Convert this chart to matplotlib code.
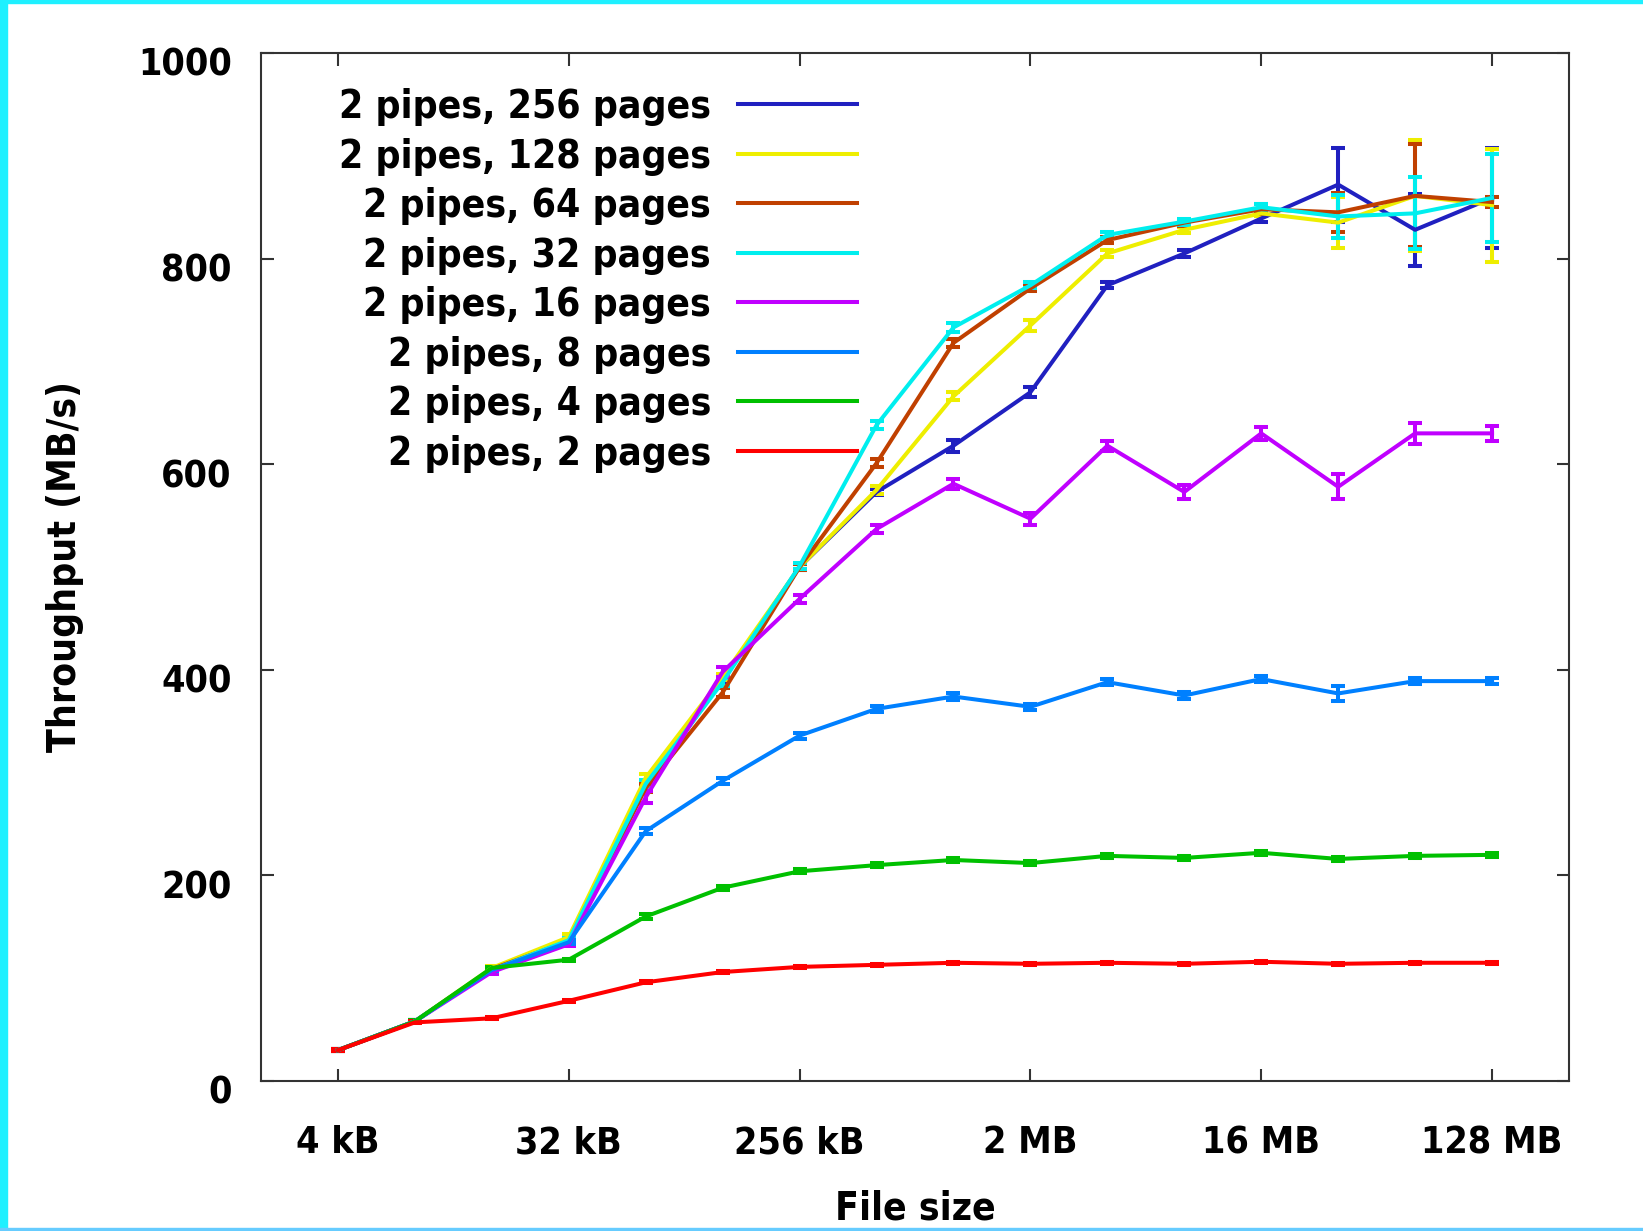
import matplotlib
matplotlib.use("Agg")
import matplotlib.pyplot as plt
import matplotlib.transforms as mtransforms
from matplotlib import font_manager as fm
from matplotlib.patches import Rectangle

# pick a narrow bold face if one is installed, else DejaVu Sans Bold
def pick_font():
    fl = fm.fontManager.ttflist
    def bold(f):
        return f.weight in ('bold', 700, 'heavy', 800) or 'Bold' in f.fname
    for f in fl:
        if 'DejaVu' in f.name and ('ondensed' in f.name or 'ondensed' in f.fname
                                   or f.stretch == 'condensed') and bold(f):
            return fm.FontProperties(fname=f.fname), 28, 27
    for f in fl:
        if 'Narrow' in f.name or 'Narrow' in f.fname:
            if bold(f):
                return fm.FontProperties(fname=f.fname), 36, 33
    return fm.FontProperties(family='DejaVu Sans', weight='bold'), 25.5, 24

fp, legend_size, tick_size = pick_font()

# File sizes in kB
sizes_kb = [4, 8, 16, 32, 64, 128, 256, 512, 1024, 2048, 4096, 8192,
            16384, 32768, 65536, 131072]
tick_pos = [4, 32, 256, 2048, 16384, 131072]
tick_labels = ['4 kB', '32 kB', '256 kB', '2 MB', '16 MB', '128 MB']
y_ticks = [0, 200, 400, 600, 800, 1000]

labels = ['2 pipes, 256 pages', '2 pipes, 128 pages', '2 pipes, 64 pages',
          '2 pipes, 32 pages', '2 pipes, 16 pages', '2 pipes, 8 pages',
          '2 pipes, 4 pages', '2 pipes, 2 pages']
colors = ['#2020c0', '#eeee00', '#c04000', '#00eeee', '#c000ff', '#0080ff',
          '#00c000', '#ff0000']

p256 = [30, 58, 109, 136, 287, 390, 500, 573, 618, 670, 774, 805, 839, 872, 828, 859]
p128 = [30, 58, 110, 140, 295, 393, 500, 575, 666, 735, 805, 828, 844, 835, 861, 852]
p64 = [30, 58, 109, 136, 285, 378, 500, 601, 718, 771, 818, 835, 848, 845, 861, 855]
p32 = [30, 58, 108, 137, 289, 388, 501, 638, 733, 774, 823, 836, 850, 841, 844, 859]
p16 = [30, 58, 106, 133, 276, 398, 469, 537, 581, 547, 618, 573, 630, 578, 630, 630]
p8 = [30, 58, 108, 135, 243, 292, 336, 362, 374, 364, 388, 375, 391, 377, 389, 389]
p4 = [30, 58, 110, 118, 160, 188, 204, 210, 215, 212, 219, 217, 222, 216, 219, 220]
p2 = [30, 57, 61, 78, 96, 106, 111, 113, 115, 114, 115, 114, 116, 114, 115, 115]

e256 = [1, 1, 2, 2, 3, 3, 3, 3, 6, 5, 3, 3, 3, 36, 35, 49]
e128 = [1, 1, 2, 3, 4, 3, 3, 4, 4, 5, 3, 3, 3, 25, 54, 55]
e64 = [1, 1, 2, 2, 4, 4, 3, 4, 4, 3, 3, 3, 5, 19, 50, 5]
e32 = [1, 1, 2, 2, 4, 4, 3, 4, 4, 3, 3, 3, 3, 21, 35, 43]
e16 = [1, 1, 2, 2, 6, 5, 4, 4, 5, 6, 5, 7, 6, 12, 10, 7]
e8 = [1, 1, 1, 2, 3, 3, 3, 3, 3, 3, 3, 3, 3, 7, 3, 3]
e4 = [1, 1, 1, 1, 2, 2, 2, 2, 2, 2, 2, 2, 2, 2, 2, 2]
e2 = [1, 1, 1, 1, 1, 1, 1, 1, 1, 1, 1, 1, 1, 1, 1, 1]

series = [p256, p128, p64, p32, p16, p8, p4, p2]
errors = [e256, e128, e64, e32, e16, e8, e4, e2]

fig = plt.figure(figsize=(16.43, 12.31), dpi=100)
ax = fig.add_axes([261/1643, 1 - 1081/1231, (1569-261)/1643, (1081-53)/1231])

for y, e, c in zip(series, errors, colors):
    ax.errorbar(sizes_kb, y, yerr=e, color=c, lw=2.9, elinewidth=2.9,
                capsize=5, capthick=2.9, clip_on=False)

ax.set_xscale('log', base=2)
ax.set_xlim(2, 262144)
ax.set_ylim(0, 1000)
ax.set_xticks(tick_pos)
ax.set_xticklabels(tick_labels, fontproperties=fp, fontsize=tick_size)
ax.minorticks_off()
ax.set_yticks(y_ticks)
ax.set_yticklabels([str(v) for v in y_ticks], fontproperties=fp, fontsize=tick_size)

for s in ax.spines.values():
    s.set_linewidth(1.5)
    s.set_color('#333333')
ax.tick_params(direction='in', length=9, width=1.5, color='#333333',
               top=True, right=True)
ax.tick_params(axis='x', pad=32)
ax.tick_params(axis='y', pad=21)
off = mtransforms.ScaledTranslation(0, -9/100, fig.dpi_scale_trans)
for lab in ax.get_yticklabels():
    lab.set_transform(lab.get_transform() + off)

# gnuplot-style key (right-aligned text, sample line at right)
x_text = (711 - 261) / 1308
x0, x1 = (738 - 261) / 1308, (857 - 261) / 1308
y_top = (1081 - 104) / 1028
dy = 49.5 / 1028
text_shift = 3 / 1028
for i, (lab, c) in enumerate(zip(labels, colors)):
    yy = y_top - i * dy
    ax.text(x_text, yy - text_shift, lab, transform=ax.transAxes, ha='right',
            va='center', fontproperties=fp, fontsize=legend_size)
    ax.plot([x0, x1], [yy, yy], transform=ax.transAxes, color=c, lw=2.9)

fig.text(65/1643, 1 - 566/1231, 'Throughput (MB/s)', rotation=90,
         ha='center', va='center', fontproperties=fp, fontsize=legend_size)
fig.text(915/1643, 1 - 1209/1231, 'File size', ha='center', va='center',
         fontproperties=fp, fontsize=legend_size)

# cyan screenshot border
border = '#1ef0ff'
fig.patches.append(Rectangle((0, 0), 7/1643, 1, transform=fig.transFigure,
                             color=border, zorder=10))
fig.patches.append(Rectangle((0, 1 - 3/1231), 1, 3/1231, transform=fig.transFigure,
                             color=border, zorder=10))
fig.patches.append(Rectangle((0, 0), 1, 3/1231, transform=fig.transFigure,
                             color='#66ccff', zorder=10))

fig.savefig('out.png', dpi=100)
